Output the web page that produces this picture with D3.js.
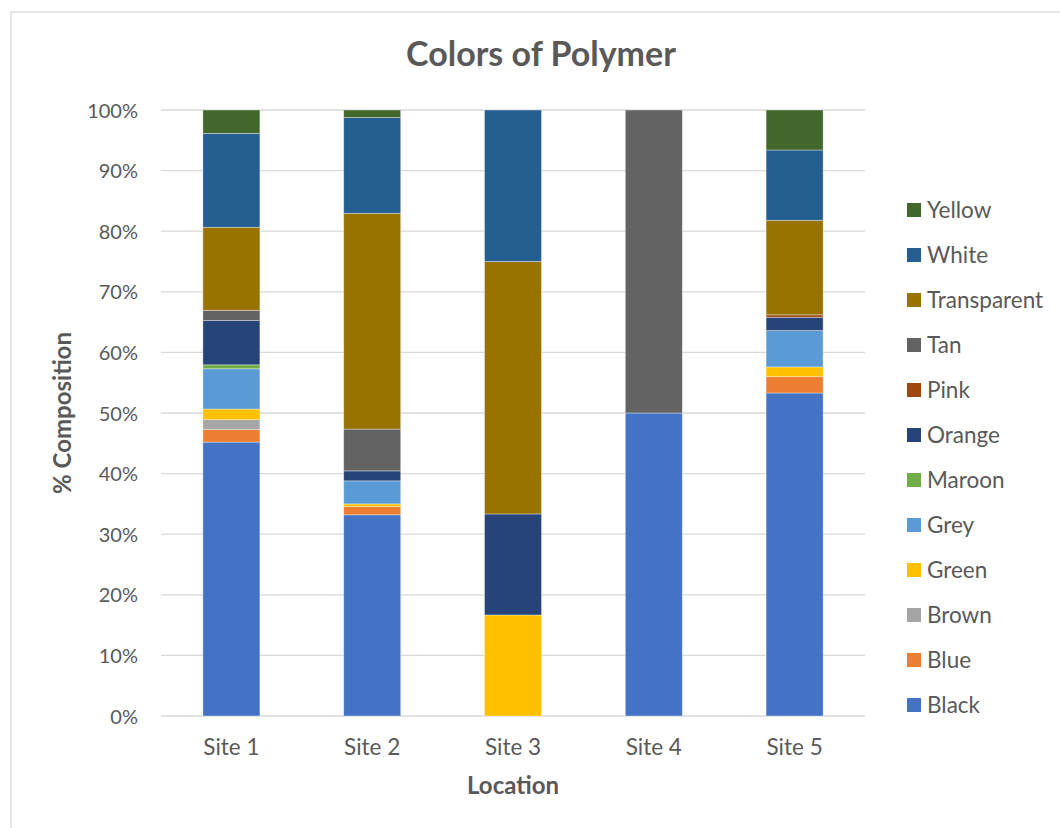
<!DOCTYPE html>
<html><head><meta charset="utf-8">
<script src="https://cdn.jsdelivr.net/npm/d3@7"></script>
<style>
html,body{margin:0;padding:0;background:#fff;}
svg{display:block;font-family:Lato,"Open Sans",sans-serif;}
svg text{font-family:Lato,"Open Sans",sans-serif;}
</style></head>
<body>
<svg id="chart" width="1060" height="828"></svg>
<script>
const sites = ["Site 1","Site 2","Site 3","Site 4","Site 5"];
const seriesNames = ["Black","Blue","Brown","Green","Grey","Maroon","Orange","Pink","Tan","Transparent","White","Yellow"];
const seriesColors = ["#4472C4","#ED7D31","#A5A5A5","#FFC000","#5B9BD5","#70AD47","#264478","#9E480E","#636363","#997300","#255E91","#43682B"];
// % composition per site
const Black       = [45.2, 33.2, 0,     50, 53.3];
const Blue        = [2.1,  1.35, 0,     0,  2.7];
const Brown       = [1.6,  0,    0,     0,  0];
const Green       = [1.75, 0.45, 16.67, 0,  1.6];
const Grey        = [6.65, 3.8,  0,     0,  6.0];
const Maroon      = [0.65, 0,    0,     0,  0];
const Orange      = [7.3,  1.65, 16.67, 0,  2.2];
const Pink        = [0,    0,    0,     0,  0.4];
const Tan         = [1.7,  6.9,  0,     50, 0];
const Transparent = [13.7, 35.6, 41.66, 0,  15.6];
const White       = [15.5, 15.8, 25,    0,  11.6];
const Yellow      = [3.85, 1.25, 0,     0,  6.6];
const yTicks = [0,10,20,30,40,50,60,70,80,90,100];

const valuesBySeries = {Black,Blue,Brown,Green,Grey,Maroon,Orange,Pink,Tan,Transparent,White,Yellow};
const rows = sites.map((s,i)=>{const r={site:s}; seriesNames.forEach(n=>r[n]=valuesBySeries[n][i]); return r;});

const svg = d3.select("#chart");
const textColor = "#595959";
const FONT = "Lato, 'Open Sans', sans-serif";

// chart frame
svg.append("rect").attr("x",11).attr("y",12).attr("width",1060).attr("height",830)
  .attr("fill","#fff").attr("stroke","#d9d9d9").attr("stroke-width",1.3);

const x = d3.scaleBand().domain(sites).range([161,865]).paddingInner(0.595).paddingOuter(0.2975);
const y = d3.scaleLinear().domain([0,100]).range([716,110]);

// gridlines
svg.append("g").selectAll("line").data(yTicks).join("line")
  .attr("x1",161).attr("x2",865).attr("y1",d=>y(d)).attr("y2",d=>y(d))
  .attr("stroke","#d9d9d9").attr("stroke-width",1.3);

// y axis labels
const yAxis = d3.axisLeft(y).tickValues(yTicks).tickFormat(d=>d+"%").tickSize(0).tickPadding(0);
const yg = svg.append("g").attr("transform","translate(138,0)").call(yAxis);
yg.attr("font-family",FONT);
yg.select(".domain").remove();
yg.selectAll("text").attr("fill",textColor).style("font-size","20px").attr("dy","0.35em");

// x axis labels
const xAxis = d3.axisBottom(x).tickSize(0).tickPadding(0);
const xg = svg.append("g").attr("transform","translate(0,747)").call(xAxis);
xg.attr("font-family",FONT);
xg.select(".domain").remove();
xg.selectAll("text").attr("fill",textColor).style("font-size","22.5px").attr("dy","0.35em");

// bars
const stack = d3.stack().keys(seriesNames);
const layers = stack(rows);
const color = d3.scaleOrdinal().domain(seriesNames).range(seriesColors);
svg.append("g").selectAll("g").data(layers).join("g")
  .attr("fill",d=>color(d.key))
  .selectAll("rect").data(d=>d.filter(p=>p[1]-p[0]>0)).join("rect")
  .attr("x",d=>x(d.data.site)).attr("width",x.bandwidth())
  .attr("y",d=>y(d[1])).attr("height",d=>y(d[0])-y(d[1]))
  .attr("stroke","#ffffff").attr("stroke-opacity",0.45).attr("stroke-width",0.8);

// title
svg.append("text").attr("x",541).attr("y",66).attr("text-anchor","middle")
  .attr("fill",textColor).style("font-size","34px").style("font-weight","bold").text("Colors of Polymer");
// axis titles
svg.append("text").attr("x",513).attr("y",794).attr("text-anchor","middle")
  .attr("fill",textColor).style("font-size","24px").style("font-weight","bold").text("Location");
svg.append("text").attr("transform","translate(71,413) rotate(-90)").attr("text-anchor","middle")
  .attr("fill",textColor).style("font-size","24px").style("font-weight","bold").text("% Composition");

// legend (reverse order)
const legendItems = seriesNames.slice().reverse();
const lg = svg.append("g").selectAll("g").data(legendItems).join("g")
  .attr("transform",(d,i)=>`translate(907,${210+i*45})`);
lg.append("rect").attr("x",0).attr("y",-7).attr("width",14).attr("height",14).attr("fill",d=>color(d));
lg.append("text").attr("x",20).attr("y",0).attr("dy","0.35em").attr("fill",textColor)
  .style("font-size","22.5px").text(d=>d);
</script>
</body></html>
